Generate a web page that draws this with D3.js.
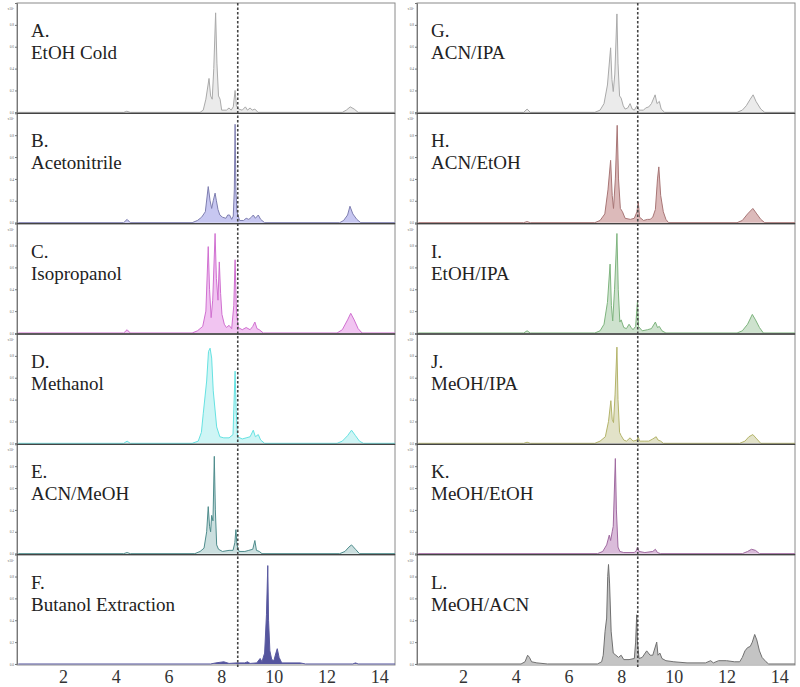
<!DOCTYPE html>
<html>
<head>
<meta charset="utf-8">
<script src="https://cdn.jsdelivr.net/npm/d3@7"></script>
<style>
  body { margin: 0; background: #fff; }
  #graphic text { font-family: "Liberation Serif", "Times New Roman", serif; }
</style>
</head>
<body>
<div id="graphic"></div>
<script>
// retention time (min), relative intensity (0-1 of panel height)
var panelA = [[0.3,0],[4.3,0],[4.42,0.01],[4.55,0],[7.2,0],[7.32,0.02],[7.42,0.12],[7.54,0.31],[7.6,0.15],[7.66,0.12],[7.72,0.4],[7.79,0.91],[7.84,0.45],[7.9,0.15],[7.96,0.12],[8.02,0.02],[8.2,0.02],[8.3,0.04],[8.38,0.02],[8.46,0.05],[8.53,0.2],[8.58,0.06],[8.66,0.03],[8.8,0.02],[8.92,0.05],[9.0,0.02],[9.1,0.04],[9.18,0.02],[9.28,0.03],[9.4,0],[12.6,0],[12.75,0.02],[12.9,0.05],[13.05,0.03],[13.2,0],[14.6,0]];
var panelB = [[0.3,0],[4.3,0],[4.43,0.03],[4.55,0],[6.9,0],[7.1,0.02],[7.26,0.05],[7.4,0.1],[7.51,0.33],[7.58,0.2],[7.64,0.13],[7.7,0.2],[7.77,0.27],[7.82,0.2],[7.88,0.12],[7.95,0.07],[8.05,0.05],[8.18,0.04],[8.25,0.07],[8.32,0.07],[8.4,0.03],[8.46,0.06],[8.5,0.3],[8.53,0.9],[8.56,0.3],[8.6,0.1],[8.7,0.02],[8.85,0.02],[8.95,0.04],[9.05,0.03],[9.15,0.05],[9.22,0.07],[9.3,0.04],[9.41,0.07],[9.5,0.03],[9.65,0],[12.5,0],[12.65,0.02],[12.8,0.07],[12.89,0.15],[13.0,0.08],[13.15,0.03],[13.3,0],[14.6,0]];
var panelC = [[0.3,0],[4.3,0],[4.43,0.03],[4.55,0],[6.9,0],[7.1,0.02],[7.3,0.06],[7.42,0.2],[7.51,0.79],[7.56,0.4],[7.62,0.14],[7.68,0.3],[7.77,0.91],[7.82,0.5],[7.88,0.3],[7.93,0.65],[7.98,0.36],[8.03,0.17],[8.12,0.08],[8.2,0.05],[8.3,0.07],[8.4,0.04],[8.48,0.25],[8.53,0.67],[8.58,0.2],[8.65,0.05],[8.8,0.03],[8.95,0.05],[9.1,0.03],[9.2,0.06],[9.28,0.1],[9.36,0.04],[9.45,0.03],[9.6,0],[12.4,0],[12.6,0.03],[12.8,0.12],[12.92,0.18],[13.05,0.12],[13.2,0.04],[13.35,0],[14.6,0]];
var panelD = [[0.3,0],[4.3,0],[4.43,0.02],[4.55,0],[6.9,0],[7.13,0.02],[7.25,0.1],[7.32,0.27],[7.45,0.57],[7.52,0.84],[7.58,0.87],[7.64,0.78],[7.7,0.48],[7.83,0.15],[7.95,0.06],[8.1,0.05],[8.3,0.05],[8.45,0.08],[8.5,0.45],[8.53,0.66],[8.57,0.3],[8.62,0.06],[8.8,0.04],[8.95,0.05],[9.1,0.06],[9.22,0.12],[9.3,0.06],[9.41,0.08],[9.5,0.03],[9.65,0],[12.4,0],[12.6,0.02],[12.8,0.07],[12.95,0.12],[13.1,0.07],[13.25,0.02],[13.4,0],[14.6,0]];
var panelE = [[0.3,0],[4.3,0],[4.43,0.01],[4.55,0],[7.0,0],[7.2,0.02],[7.35,0.05],[7.45,0.2],[7.51,0.43],[7.56,0.25],[7.6,0.2],[7.64,0.35],[7.69,0.3],[7.74,0.89],[7.78,0.4],[7.83,0.08],[7.9,0.04],[8.05,0.02],[8.3,0.03],[8.45,0.03],[8.52,0.1],[8.56,0.22],[8.6,0.08],[8.68,0.02],[8.9,0.02],[9.05,0.03],[9.2,0.04],[9.28,0.12],[9.34,0.03],[9.45,0.02],[9.55,0],[12.5,0],[12.7,0.02],[12.85,0.06],[12.95,0.08],[13.1,0.04],[13.25,0],[14.6,0]];
var panelF = [[0.3,0],[7.6,0],[7.8,0.01],[8.1,0.02],[8.3,0.005],[8.6,0.01],[8.9,0.01],[9.0,0.02],[9.1,0.005],[9.35,0.01],[9.48,0.05],[9.55,0.02],[9.65,0.1],[9.72,0.45],[9.77,0.9],[9.8,0.4],[9.85,0.12],[9.92,0.04],[10.0,0.03],[10.08,0.1],[10.13,0.14],[10.2,0.06],[10.3,0.01],[11.0,0.01],[11.2,0],[13.0,0],[13.1,0.01],[13.2,0],[14.6,0]];
var panelG = [[0.3,0],[4.3,0],[4.43,0.03],[4.55,0],[7.0,0],[7.2,0.02],[7.35,0.08],[7.48,0.25],[7.6,0.59],[7.65,0.3],[7.7,0.19],[7.76,0.35],[7.84,0.9],[7.88,0.45],[7.94,0.15],[8.0,0.13],[8.08,0.06],[8.15,0.03],[8.25,0.04],[8.34,0.08],[8.42,0.03],[8.5,0.02],[8.6,0.06],[8.68,0.02],[8.85,0.02],[8.93,0.04],[9.05,0.05],[9.15,0.08],[9.29,0.16],[9.36,0.08],[9.45,0.1],[9.52,0.03],[9.65,0],[12.4,0],[12.6,0.02],[12.75,0.06],[12.9,0.12],[13.01,0.16],[13.12,0.1],[13.3,0.03],[13.45,0],[14.6,0]];
var panelH = [[0.3,0],[4.3,0],[4.43,0.01],[4.55,0],[7.0,0],[7.2,0.02],[7.38,0.08],[7.5,0.3],[7.6,0.57],[7.66,0.25],[7.71,0.13],[7.78,0.4],[7.85,0.89],[7.9,0.4],[7.97,0.13],[8.05,0.1],[8.15,0.04],[8.35,0.03],[8.5,0.04],[8.6,0.1],[8.65,0.19],[8.7,0.05],[8.85,0.02],[9.0,0.03],[9.1,0.03],[9.2,0.05],[9.3,0.12],[9.38,0.4],[9.43,0.51],[9.5,0.25],[9.6,0.1],[9.7,0.03],[9.8,0],[12.4,0],[12.6,0.02],[12.8,0.08],[13.0,0.13],[13.15,0.08],[13.3,0.03],[13.45,0],[14.6,0]];
var panelI = [[0.3,0],[4.3,0],[4.43,0.02],[4.55,0],[7.0,0],[7.2,0.02],[7.35,0.08],[7.48,0.28],[7.58,0.63],[7.63,0.25],[7.68,0.11],[7.75,0.4],[7.84,0.91],[7.89,0.4],[7.95,0.1],[8.0,0.12],[8.1,0.05],[8.2,0.04],[8.3,0.08],[8.38,0.05],[8.45,0.03],[8.55,0.06],[8.62,0.29],[8.66,0.06],[8.8,0.02],[9.0,0.03],[9.15,0.04],[9.3,0.1],[9.38,0.05],[9.45,0.06],[9.55,0.02],[9.7,0],[12.4,0],[12.6,0.02],[12.8,0.08],[12.98,0.17],[13.1,0.12],[13.25,0.05],[13.4,0],[14.6,0]];
var panelJ = [[0.3,0],[4.3,0],[4.43,0.01],[4.55,0],[7.0,0],[7.2,0.02],[7.4,0.06],[7.52,0.2],[7.61,0.39],[7.66,0.22],[7.71,0.19],[7.77,0.45],[7.84,0.88],[7.88,0.4],[7.94,0.1],[8.0,0.07],[8.1,0.03],[8.2,0.02],[8.34,0.05],[8.45,0.02],[8.6,0.03],[8.65,0.06],[8.7,0.02],[8.9,0.02],[9.05,0.02],[9.2,0.04],[9.33,0.06],[9.4,0.03],[9.5,0.02],[9.6,0],[12.5,0],[12.7,0.02],[12.85,0.06],[13.0,0.08],[13.15,0.04],[13.3,0],[14.6,0]];
var panelK = [[0.3,0],[7.1,0],[7.3,0.02],[7.45,0.08],[7.55,0.17],[7.6,0.12],[7.66,0.2],[7.7,0.25],[7.78,0.87],[7.82,0.4],[7.88,0.06],[7.95,0.02],[8.1,0.01],[8.5,0.01],[8.58,0.03],[8.62,0.06],[8.68,0.02],[8.9,0.01],[9.2,0.02],[9.3,0.04],[9.38,0.01],[9.5,0],[12.6,0],[12.8,0.02],[12.95,0.04],[13.1,0.03],[13.25,0],[14.6,0]];
var panelL = [[0.3,0],[4.2,0],[4.35,0.02],[4.45,0.08],[4.52,0.06],[4.6,0.02],[4.8,0.01],[5.2,0],[7.1,0],[7.26,0.02],[7.32,0.08],[7.39,0.3],[7.45,0.42],[7.49,0.8],[7.52,0.91],[7.56,0.74],[7.62,0.3],[7.7,0.1],[7.8,0.08],[7.9,0.06],[8.0,0.08],[8.1,0.04],[8.3,0.04],[8.5,0.05],[8.55,0.2],[8.59,0.45],[8.62,0.2],[8.68,0.05],[8.8,0.06],[8.97,0.12],[9.1,0.08],[9.2,0.08],[9.35,0.2],[9.4,0.08],[9.47,0.1],[9.55,0.05],[9.7,0.03],[10.0,0.02],[10.5,0.01],[11.2,0.01],[11.4,0.03],[11.5,0.01],[11.7,0.03],[12.0,0.03],[12.3,0.02],[12.5,0.02],[12.6,0.06],[12.7,0.12],[12.8,0.15],[12.9,0.16],[12.98,0.2],[13.07,0.27],[13.15,0.22],[13.25,0.12],[13.35,0.06],[13.5,0.02],[13.6,0],[14.6,0]];

var letters = ["A.", "B.", "C.", "D.", "E.", "F.", "G.", "H.", "I.", "J.", "K.", "L."];
var names = ["EtOH Cold", "Acetonitrile", "Isopropanol", "Methanol", "ACN/MeOH", "Butanol Extraction",
             "ACN/IPA", "ACN/EtOH", "EtOH/IPA", "MeOH/IPA", "MeOH/EtOH", "MeOH/ACN"];
var traces = [panelA, panelB, panelC, panelD, panelE, panelF, panelG, panelH, panelI, panelJ, panelK, panelL];
var lineColours = ["#aaaaaa", "#7e7eb0", "#d070d0", "#66e2e2", "#4e8c8c", "#5a5aa0",
                   "#aaaaaa", "#a87676", "#7eb47e", "#b4b46a", "#a06aa0", "#707070"];
var fillColours = ["#9a9a9a", "#4646d2", "#d23cd2", "#3cd8d8", "#2e7e7e", "#2a2a86",
                   "#9a9a9a", "#8c1c1c", "#3a8c3a", "#8c8c22", "#842284", "#3c3c3c"];
var fillOpacity = [0.2, 0.3, 0.3, 0.25, 0.25, 0.8, 0.2, 0.3, 0.25, 0.25, 0.3, 0.3];
var yTicks = [0, 0.2, 0.4, 0.6, 0.8];
var xTicks = [2, 4, 6, 8, 10, 12, 14];
var markerTime = 8.63;

var graphic = d3.select('#graphic');
var width = 800, height = 687;
var colLeft = [17, 417], colWidth = 378;
var chartTop = 3, rowH = 110.33, nPanels = 6;

var svg = graphic.append('svg').attr('width', width).attr('height', height);

var x = d3.scaleLinear().domain([0.25, 14.6]).range([0, colWidth]);
var y = d3.scaleLinear().domain([0, 1]).range([rowH - 1, 0]);

var area = d3.area().x(d => x(d[0])).y0(y(0)).y1(d => y(d[1]));
var line = d3.line().x(d => x(d[0])).y(d => y(d[1]));

traces.forEach(function(tr, i) {
  var col = Math.floor(i / nPanels), row = i % nPanels;
  var g = svg.append('g')
    .attr('transform', 'translate(' + colLeft[col] + ',' + (chartTop + row * rowH) + ')');

  g.append('rect')
    .attr('width', colWidth).attr('height', rowH)
    .attr('fill', 'none').attr('stroke', '#8a8a8a').attr('stroke-width', 1);

  // tiny intensity axis
  var yAxis = d3.axisLeft(y).tickValues(yTicks).tickSize(2).tickPadding(1).tickFormat(d3.format('.1f'));
  var ya = g.append('g').attr('class', 'y axis').call(yAxis);
  ya.selectAll('text').style('font-size', '3.5px').attr('fill', '#666');
  ya.selectAll('line, path').attr('stroke', '#777');
  g.append('text').attr('x', -3).attr('y', 7).attr('text-anchor', 'end')
    .style('font-size', '3.5px').attr('fill', '#666').text('x10⁶');

  g.append('path').datum(tr).attr('d', area)
    .attr('fill', fillColours[i]).attr('fill-opacity', fillOpacity[i]);
  g.append('path').datum(tr).attr('d', line)
    .attr('fill', 'none').attr('stroke', lineColours[i]).attr('stroke-width', 1);

  g.append('text').attr('x', 14).attr('y', 34).style('font-size', '19px').attr('fill', '#222').text(letters[i]);
  g.append('text').attr('x', 14).attr('y', 56).style('font-size', '19px').attr('fill', '#222').text(names[i]);
});

// panel dividers, marker line and x labels per column
colLeft.forEach(function(cx) {
  var g = svg.append('g').attr('transform', 'translate(' + cx + ',0)');
  d3.range(1, nPanels).forEach(function(r) {
    g.append('line').attr('x1', 0).attr('x2', colWidth)
      .attr('y1', chartTop + r * rowH).attr('y2', chartTop + r * rowH)
      .attr('stroke', '#444').attr('stroke-width', 1.3);
  });
  g.append('line')
    .attr('x1', x(markerTime)).attr('x2', x(markerTime))
    .attr('y1', chartTop).attr('y2', chartTop + nPanels * rowH + 3)
    .attr('stroke', '#444').attr('stroke-width', 1.6).attr('stroke-dasharray', '2.5,2');

  var xAxis = d3.axisBottom(x).tickValues(xTicks).tickSize(0).tickPadding(5);
  var xa = g.append('g')
    .attr('transform', 'translate(0,' + (chartTop + nPanels * rowH) + ')')
    .call(xAxis);
  xa.select('.domain').remove();
  xa.selectAll('text').style('font-size', '18px').attr('fill', '#333');
});
</script>
</body>
</html>
